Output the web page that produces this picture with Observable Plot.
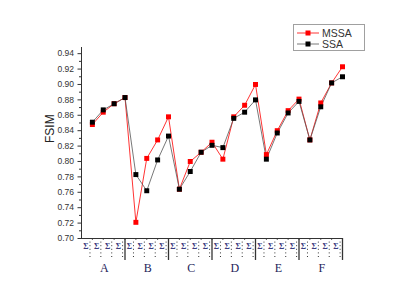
<!DOCTYPE html>
<html>
<head>
<meta charset="utf-8">
<script src="https://cdn.jsdelivr.net/npm/d3@7"></script>
<script src="https://cdn.jsdelivr.net/npm/@observablehq/plot@0.6"></script>
<style>
  html, body { margin: 0; padding: 0; background: #fff; }
  #wrap { position: relative; width: 417px; height: 307px; font-family: "Liberation Sans", Arial, sans-serif; }
  #legend { position: absolute; left: 293px; top: 24px; width: 72px; height: 27px; border: 1px solid #a0a0a0; box-sizing: border-box; background: #fff; }
  .row { position: absolute; left: 3px; height: 10px; display: flex; align-items: center; color: #333; }
  .row svg { margin-right: 3px; display: block; }
  .row span { display: block; font-size: 10.5px; line-height: 10px; height: 10px; }
</style>
</head>
<body>
<div id="wrap">
  <div id="chart"></div>
  <div id="legend"></div>
</div>
<script>
// ---- data ----
const positions = d3.range(1, 25);
const seriesNames = ["MSSA", "SSA"];
const seriesColors = ["#ff0000", "#000000"];
const mssa = [0.848, 0.864, 0.875, 0.883, 0.721, 0.804, 0.828, 0.858,
              0.764, 0.800, 0.812, 0.825, 0.803, 0.858, 0.873, 0.900,
              0.809, 0.840, 0.866, 0.881, 0.828, 0.876, 0.902, 0.923];
const ssa  = [0.851, 0.867, 0.875, 0.883, 0.783, 0.762, 0.802, 0.833,
              0.764, 0.787, 0.812, 0.821, 0.818, 0.856, 0.864, 0.880,
              0.803, 0.837, 0.863, 0.878, 0.828, 0.871, 0.902, 0.910];
const groups = ["A", "B", "C", "D", "E", "F"];
const yMajorTicks = [0.70, 0.72, 0.74, 0.76, 0.78, 0.80, 0.82, 0.84, 0.86, 0.88, 0.90, 0.92, 0.94];
const yMinorTicks = [0.71, 0.73, 0.75, 0.77, 0.79, 0.81, 0.83, 0.85, 0.87, 0.89, 0.91, 0.93];
const xTickGlyph = "Σ";
const yLabel = "FSIM";

// ---- layout helpers ----
const yMin = 0.70, yMax = 0.948;
const pxPerUnit = (238.3 - 47) / (yMax - yMin);
const below = px => yMin - px / pxPerUnit;
const groupBounds = groups.map((g, i) => (i + 1) * 4);
const dotted = positions.map(p => p - 0.22);

const rowsM = positions.map((p, i) => ({x: p, y: mssa[i]}));
const rowsS = positions.map((p, i) => ({x: p, y: ssa[i]}));

const chart = Plot.plot({
  width: 417,
  height: 307,
  marginLeft: 81,
  marginRight: 75,
  marginTop: 47,
  marginBottom: 69,
  style: {fontFamily: "'Liberation Sans', Arial, sans-serif", background: "#fff", overflow: "visible"},
  x: {domain: [0, 24], axis: null},
  y: {domain: [yMin, yMax], axis: null},
  marks: [
    // below-axis dotted separators
    Plot.ruleX(dotted, {x: d => d, y1: yMin, y2: below(21), stroke: "#333", strokeWidth: 1, strokeDasharray: "1,2.6"}),
    // group separators
    Plot.ruleX(groupBounds, {x: d => d, y1: yMin, y2: below(22), stroke: "#333", strokeWidth: 1.3}),
    // x small ticks
    Plot.ruleX(positions, {x: d => d, y1: yMin, y2: below(2), stroke: "#333", strokeWidth: 0.8}),
    // x tick glyphs
    Plot.text(positions, {x: d => d - 0.6, y: yMin, dy: 8, text: () => xTickGlyph, fontSize: 8, fontFamily: "'Liberation Serif', serif", fill: "#3c3c80", fontWeight: "bold"}),
    // group letters
    Plot.text(groups, {x: (d, i) => i * 4 + 2.1, y: yMin, dy: 30, text: d => d, fontSize: 12, fontFamily: "'Liberation Serif', serif", fill: "#1e1e5a"}),
    // axes lines
    Plot.ruleY([yMin], {x1: 0, x2: 24, stroke: "#333", strokeWidth: 1}),
    Plot.ruleX([0], {y1: yMin, y2: yMax, stroke: "#333", strokeWidth: 1}),
    Plot.axisY(yMinorTicks, {tickSize: 2, text: null, label: null, stroke: "#333"}),
    Plot.axisY(yMajorTicks, {tickSize: 3.5, tickPadding: 4, tickFormat: ".2f", label: null, fontSize: 8.5, fill: "#333", stroke: "#333"}),
    Plot.text([yLabel], {frameAnchor: "left", dx: -31, rotate: -90, fontSize: 12, fill: "#222"}),
    // series
    Plot.line(rowsM, {x: "x", y: "y", stroke: seriesColors[0], strokeWidth: 0.8}),
    Plot.line(rowsS, {x: "x", y: "y", stroke: "#555", strokeWidth: 0.8}),
    Plot.dot(rowsM, {x: "x", y: "y", symbol: "square", r: 2.8, fill: seriesColors[0], stroke: "none"}),
    Plot.dot(rowsS, {x: "x", y: "y", symbol: "square", r: 2.8, fill: seriesColors[1], stroke: "none"})
  ]
});
document.getElementById("chart").appendChild(chart);

// legend
const legend = document.getElementById("legend");
seriesNames.forEach((name, i) => {
  const row = document.createElement("div");
  row.className = "row";
  row.style.top = (i === 0 ? 3 : 14) + "px";
  const lineColor = i === 0 ? seriesColors[0] : "#555";
  row.innerHTML = `<svg width="22" height="10"><line x1="0" y1="5" x2="22" y2="5" stroke="${lineColor}" stroke-width="0.8"/><rect x="8.5" y="2.5" width="5" height="5" fill="${seriesColors[i]}"/></svg><span>${name}</span>`;
  legend.appendChild(row);
});
</script>
</body>
</html>
